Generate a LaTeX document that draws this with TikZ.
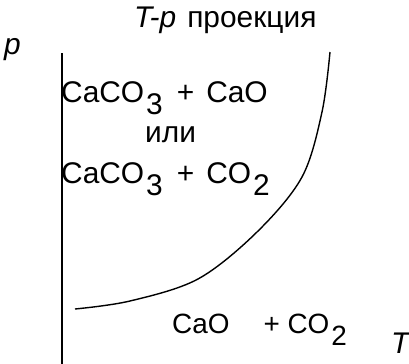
\documentclass[tikz,border=0pt]{standalone}
\usepackage{fontspec}
\setmainfont{Liberation Sans}
\newcommand\sbs[1]{\hspace{2bp}\raisebox{-12bp}{#1}}
\begin{document}
\begin{tikzpicture}[x=1bp,y=-1bp,
  lbl/.style={inner sep=0pt,anchor=base west,font=\fontsize{30}{32}\selectfont},
  lblsmall/.style={inner sep=0pt,anchor=base west,font=\fontsize{28}{30}\selectfont},
  axisline/.style={line width=1.6bp},
  curveline/.style={line width=1.4bp}]
\useasboundingbox (0,0) rectangle (409,364);
\node[lbl] (title) at (134,27) {\textit{T-p}\hspace{11bp}проекция};
\node[lbl] (plabel) at (4,54) {\textit{p}};
\node[lbl] (tlabel) at (391,353) {\textit{T}};
\node[lbl] (l1) at (61,102) {CaCO\sbs{3}\hspace{14bp}+\hspace{12bp}CaO};
\node[lbl] (ili) at (145,142) {или};
\node[lbl] (l3) at (61,183) {CaCO\sbs{3}\hspace{14bp}+\hspace{12bp}CO\sbs{2}};
\node[lblsmall] (l4) at (172,333) {CaO\hspace{34bp}+ CO\sbs{2}};
\coordinate (atop) at (62,53);
\coordinate (abot) at (62,364);
\draw[axisline] (atop) -- (abot);
\draw[curveline] plot[smooth,tension=0.55] coordinates {(75,309) (130,301) (198,279) (257,232) (302,177) (322,112) (330,52)};
\end{tikzpicture}
\end{document}
